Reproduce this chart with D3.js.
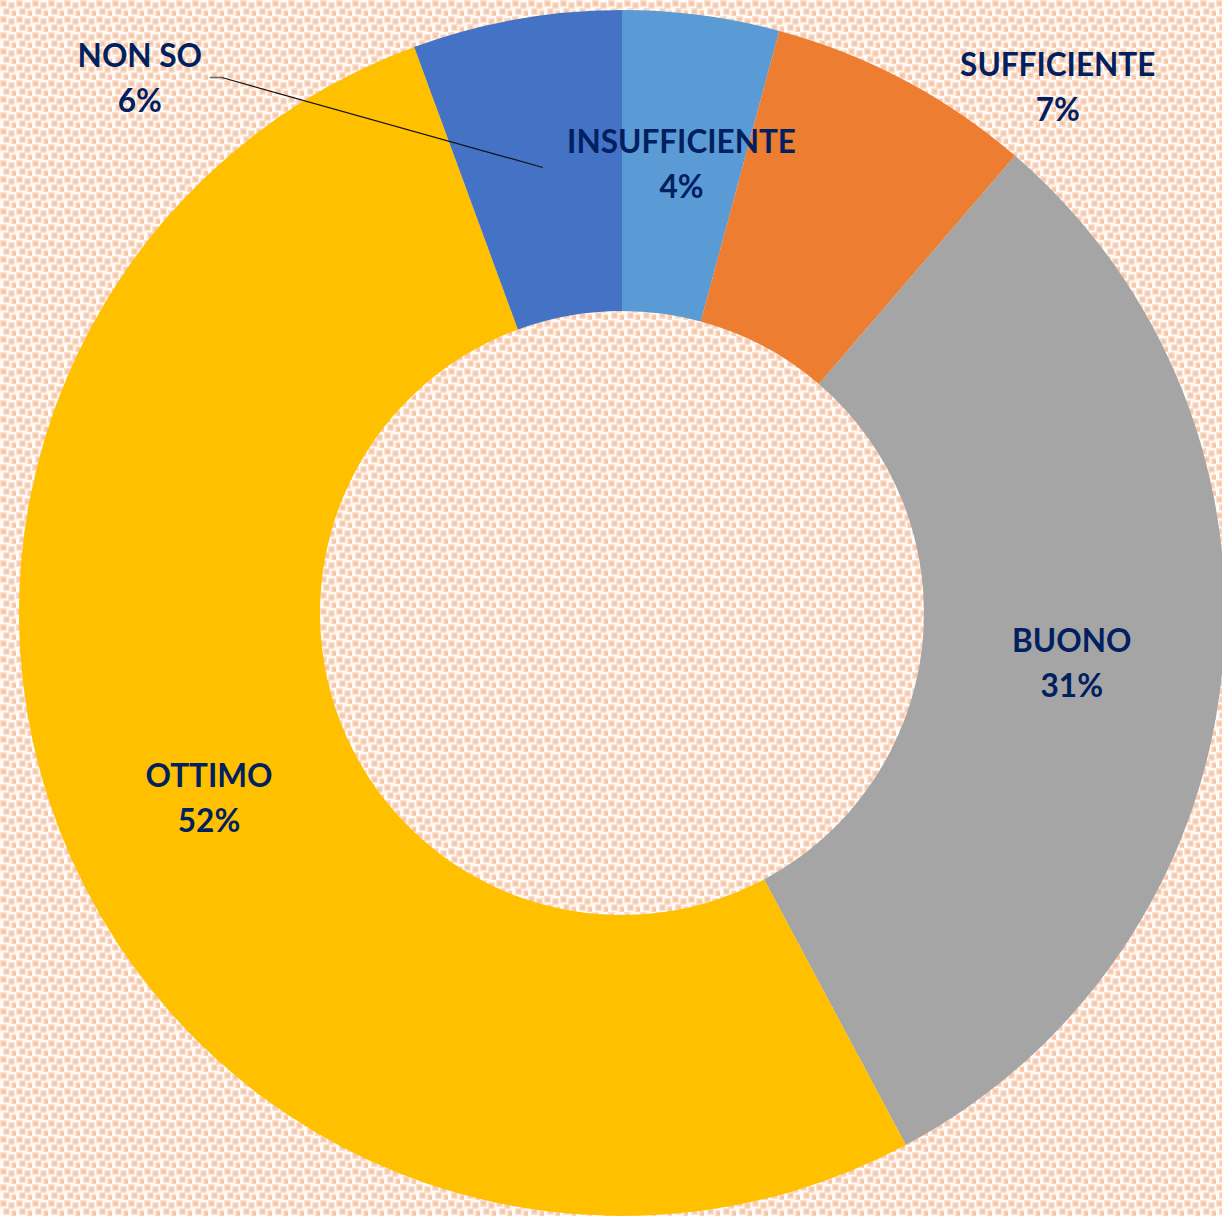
<!DOCTYPE html>
<html>
<head>
<meta charset="utf-8">
<script src="https://cdn.jsdelivr.net/npm/d3@7"></script>
<style>
  html, body { margin: 0; padding: 0; background: #fff; }
  svg { display: block; }
</style>
</head>
<body>
<div id="chart"></div>
<script>
// data (share of answers, %)
const categories = ["INSUFFICIENTE", "SUFFICIENTE", "BUONO", "OTTIMO", "NON SO"];
const values = [4.2, 7.1, 30.9, 52.2, 5.6];
const percentLabels = ["4%", "7%", "31%", "52%", "6%"];
const colors = ["#5B9BD5", "#ED7D31", "#A5A5A5", "#FFC000", "#4472C4"];

const width = 1222, height = 1216;
const cx = 622, cy = 613;
const outerR = 603, innerR = 302;

// labels that were dragged out of the ring (offset from centroid)
const labelMoves = {
  "NON SO": [-403, -89],
  "SUFFICIENTE": [224, -126]
};

const svg = d3.select("#chart")
  .append("svg")
  .attr("width", width)
  .attr("height", height);

// confetti-like background fill
const defs = svg.append("defs");
const pat = defs.append("pattern")
  .attr("id", "bgpat")
  .attr("width", 16)
  .attr("height", 16)
  .attr("patternUnits", "userSpaceOnUse");
pat.append("rect").attr("width", 16).attr("height", 16).attr("fill", "#fffcfa");
[[1, 1], [9, 3], [4, 9], [12, 11]].forEach(([x, y]) => {
  pat.append("rect")
    .attr("x", x).attr("y", y)
    .attr("width", 5).attr("height", 5)
    .attr("fill", "#f7c6a6")
    .attr("stroke", "#fad9c4")
    .attr("stroke-width", 1.5);
});

svg.append("rect")
  .attr("width", width)
  .attr("height", height)
  .attr("fill", "url(#bgpat)");

const g = svg.append("g")
  .attr("transform", `translate(${cx},${cy})`);

const pie = d3.pie().sort(null).value(d => d.value);
const arc = d3.arc().innerRadius(innerR).outerRadius(outerR);

const data = categories.map((c, i) => ({
  name: c, value: values[i], label: percentLabels[i], color: colors[i]
}));
const arcs = pie(data);

g.selectAll("path.slice")
  .data(arcs)
  .enter()
  .append("path")
  .attr("class", "slice")
  .attr("d", arc)
  .attr("fill", d => d.data.color);

// leader line for NON SO
arcs.filter(a => a.data.name === "NON SO").forEach(a => {
  const mv = labelMoves[a.data.name];
  const [px, py] = arc.centroid(a);
  const lx = px + mv[0], ly = py + mv[1];
  g.append("line")
    .attr("x1", lx + 70).attr("y1", ly - 1)
    .attr("x2", lx + 82).attr("y2", ly - 1)
    .attr("stroke", "#666")
    .attr("stroke-width", 1.5);
  g.append("line")
    .attr("x1", lx + 82).attr("y1", ly - 1)
    .attr("x2", px).attr("y2", py)
    .attr("stroke", "#111")
    .attr("stroke-width", 1.2);
});

// data labels
const labels = g.selectAll("text.lbl")
  .data(arcs)
  .enter()
  .append("text")
  .attr("class", "lbl")
  .attr("transform", d => {
    const [px, py] = arc.centroid(d);
    const mv = labelMoves[d.data.name] || [0, 0];
    return `translate(${px + mv[0]},${py + mv[1]})`;
  })
  .attr("text-anchor", "middle")
  .attr("font-family", "Lato, 'Open Sans', sans-serif")
  .attr("font-weight", "bold")
  .attr("font-size", 31.5)
  .attr("fill", "#002060");

labels.append("tspan")
  .attr("x", 0)
  .attr("y", -11)
  .text(d => d.data.name);

labels.append("tspan")
  .attr("x", 0)
  .attr("y", 34)
  .text(d => d.data.label);
</script>
</body>
</html>
